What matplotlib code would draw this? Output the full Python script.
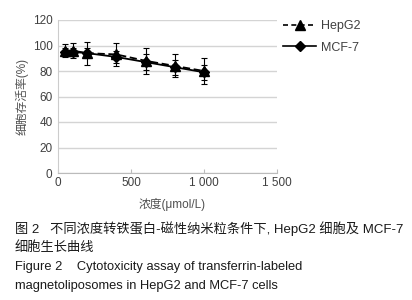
import matplotlib
matplotlib.use("Agg")
import matplotlib.pyplot as plt
from matplotlib.lines import Line2D

plt.rcParams['font.family'] = ['Liberation Sans', 'Noto Sans CJK SC', 'DejaVu Sans']

conc = [50, 100, 200, 400, 600, 800, 1000]
hepg2 = [96, 96, 94, 93, 88, 84, 80]
hepg2_err = [5, 6, 9, 9, 10, 9, 10]
mcf7 = [95, 95, 94, 91, 87, 83, 79]
mcf7_err = [3, 3, 4, 5, 6, 6, 6]
xticks = [0, 500, 1000, 1500]
xticklabels = ['0', '500', '1 000', '1 500']
yticks = [0, 20, 40, 60, 80, 100, 120]

fig = plt.figure(figsize=(4.12, 3.0), dpi=100)
ax = fig.add_axes([58/412, 1-173/300, 219/412, 153/300])

ax.errorbar(conc, hepg2, yerr=hepg2_err, color='black', linestyle=(0, (4, 2)), lw=1.3,
            marker='^', ms=7.5, capsize=2.5, elinewidth=0.8, capthick=0.8, zorder=4)
ax.errorbar(conc, mcf7, yerr=mcf7_err, color='black', linestyle='-', lw=1.3,
            marker='D', ms=5, capsize=2.5, elinewidth=0.8, capthick=0.8, zorder=3)

ax.set_xlim(0, 1500)
ax.set_ylim(0, 120)
ax.set_xticks(xticks)
ax.set_xticklabels(xticklabels)
ax.set_yticks(yticks)
ax.yaxis.grid(True, color='#d4d4d4', lw=1.0)
ax.set_axisbelow(True)
for s in ['top', 'right']:
    ax.spines[s].set_visible(False)
ax.spines['left'].set_color('#cccccc')
ax.spines['bottom'].set_color('#bbbbbb')
ax.tick_params(axis='x', direction='in', length=3, color='#bbbbbb', labelsize=8.5, labelcolor='#404040', pad=3)
ax.tick_params(axis='y', length=0, labelsize=8.5, labelcolor='#404040', pad=4)

ax.set_ylabel('细胞存活率(%)', fontsize=8.5, color='#505050', labelpad=3)
fig.text(172/412, 1-204/300, '浓度(μmol/L)', fontsize=8.5, color='#505050', ha='center', va='center')

handles = [
    Line2D([], [], color='black', linestyle=(0, (3, 2)), lw=1.2, marker='^', ms=7.5),
    Line2D([], [], color='black', linestyle='-', lw=1.2, marker='D', ms=5),
]
fig.legend(handles, ['HepG2', 'MCF-7'], loc='upper left', bbox_to_anchor=(272/412, 1-9/300),
           frameon=False, fontsize=9, handlelength=2.6, handletextpad=0.4, labelspacing=0.75,
           labelcolor='#404040')

fig.text(15/412, 1-229/300, '图 2   不同浓度转铁蛋白-磁性纳米粒条件下, HepG2 细胞及 MCF-7',
         fontsize=9.5, color='#1a1a1a', va='center')
fig.text(15/412, 1-248/300, '细胞生长曲线', fontsize=9.5, color='#1a1a1a', va='center')
fig.text(15/412, 1-267/300, 'Figure 2    Cytotoxicity assay of transferrin-labeled',
         fontsize=9.3, color='#1a1a1a', va='center')
fig.text(15/412, 1-286/300, 'magnetoliposomes in HepG2 and MCF-7 cells',
         fontsize=9.3, color='#1a1a1a', va='center')

fig.savefig('out.png', dpi=100)
